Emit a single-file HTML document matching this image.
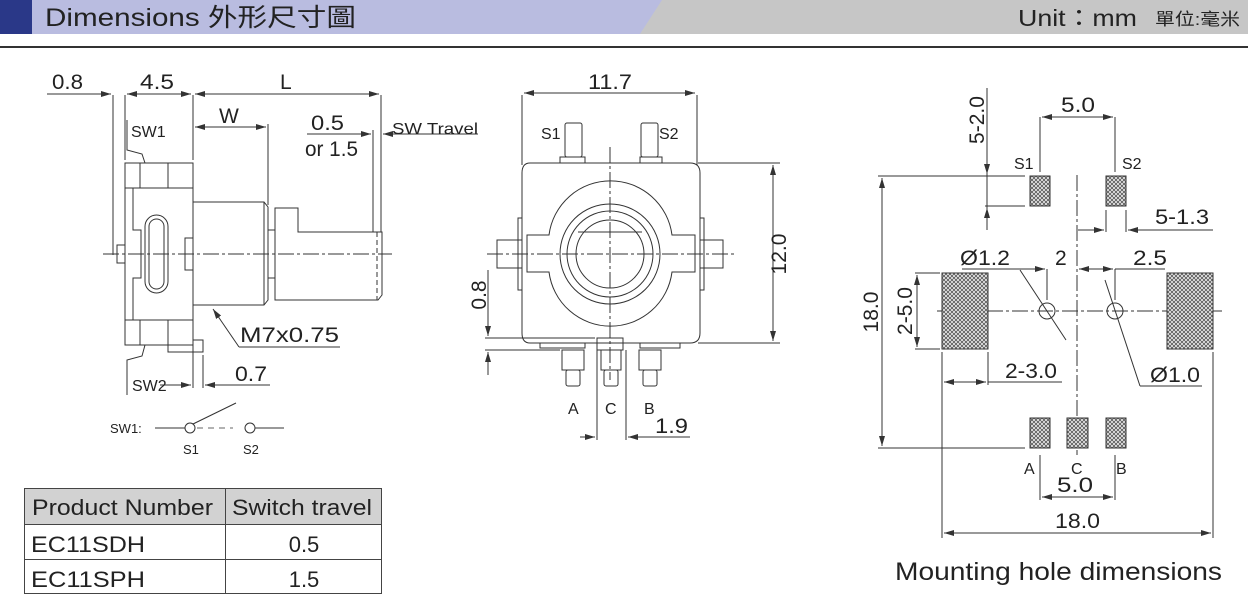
<!DOCTYPE html>
<html><head><meta charset="utf-8"><style>
html,body{margin:0;padding:0;background:#fff;width:1248px;height:610px;overflow:hidden}
svg{display:block}
text{font-family:"Liberation Sans","Noto Sans CJK TC",sans-serif;fill:#222}
</style></head><body>
<svg width="1248" height="610" viewBox="0 0 1248 610" xmlns="http://www.w3.org/2000/svg">
<defs>
<pattern id="hx" width="4" height="4" patternUnits="userSpaceOnUse">
<rect width="4" height="4" fill="#eee"/>
<path d="M0 0L4 4M4 0L0 4" stroke="#555" stroke-width="0.8"/>
</pattern>
<marker id="a" viewBox="0 0 10 6" refX="10" refY="3" markerWidth="10" markerHeight="6" orient="auto-start-reverse" markerUnits="userSpaceOnUse"><path d="M0 0L10 3L0 6z" fill="#333"/></marker>
</defs>
<!-- header -->
<rect x="0" y="0" width="1248" height="34" fill="#c6c6c6"/>
<polygon points="32,0 662,0 640,34 32,34" fill="#b9bce0"/>
<rect x="0" y="0" width="32" height="34" fill="#2a3888"/>
<text x="45" y="26" font-size="25" textLength="311" lengthAdjust="spacingAndGlyphs">Dimensions  外形尺寸圖</text>
<text x="1018" y="26" font-size="23" textLength="119" lengthAdjust="spacingAndGlyphs">Unit：mm</text>
<text x="1155" y="25" font-size="17" textLength="85" lengthAdjust="spacingAndGlyphs">單位:毫米</text>
<rect x="0" y="46" width="1248" height="2" fill="#333"/>

<g stroke="#333" stroke-width="1" fill="none">
<!-- LEFT VIEW -->
<line x1="113" y1="95" x2="113" y2="255"/>
<line x1="125" y1="95" x2="125" y2="160"/>
<line x1="193" y1="95" x2="193" y2="160"/>
<line x1="381" y1="95" x2="381" y2="232"/>
<line x1="373" y1="130" x2="373" y2="232"/>
<line x1="268" y1="124" x2="268" y2="205"/>
<line x1="47" y1="94" x2="111" y2="94" marker-end="url(#a)"/>
<line x1="127" y1="94" x2="191" y2="94" marker-start="url(#a)" marker-end="url(#a)"/>
<line x1="195" y1="94" x2="379" y2="94" marker-start="url(#a)" marker-end="url(#a)"/>
<line x1="195" y1="127" x2="266" y2="127" marker-start="url(#a)" marker-end="url(#a)"/>
<line x1="307" y1="134" x2="371" y2="134" marker-end="url(#a)"/>
<line x1="478" y1="134" x2="383" y2="134" marker-end="url(#a)"/>
<path d="M127 120V150L142 154L145 163"/>
<path d="M127 395V360L142 356L145 345"/>
<rect x="125" y="163" width="68" height="182"/>
<line x1="125" y1="188" x2="193" y2="188"/><line x1="125" y1="320" x2="193" y2="320"/>
<line x1="140" y1="163" x2="140" y2="188"/><line x1="168" y1="163" x2="168" y2="188"/>
<line x1="140" y1="320" x2="140" y2="345"/><line x1="168" y1="320" x2="168" y2="345"/>
<path d="M133 188V230H141V278H133V320"/>
<rect x="145" y="215" width="23" height="78" rx="11.5"/>
<rect x="149" y="219" width="15" height="70" rx="7.5"/>
<rect x="185" y="238" width="8" height="32"/>
<rect x="117" y="245" width="8" height="18"/>
<path d="M168 345V352H203V340H193"/>
<path d="M193 202H264L268 207V300L264 305H193"/>
<line x1="264" y1="202" x2="264" y2="305"/>
<rect x="268" y="230" width="7" height="48"/>
<path d="M275 300V208H298V232H382V295L378 300Z"/>
<line x1="377" y1="232" x2="377" y2="300" stroke-dasharray="5,3"/>
<line x1="103" y1="254" x2="392" y2="254" stroke-dasharray="16,3,3,3"/>
<line x1="193" y1="345" x2="193" y2="388"/><line x1="203" y1="355" x2="203" y2="388"/>
<line x1="160" y1="385" x2="191" y2="385" marker-end="url(#a)"/>
<line x1="270" y1="385" x2="205" y2="385" marker-end="url(#a)"/>
<path d="M239 347L213 309" marker-end="url(#a)"/><line x1="239" y1="347" x2="340" y2="347"/>
<line x1="155" y1="428" x2="185" y2="428"/><circle cx="190" cy="428" r="5"/>
<line x1="193" y1="424" x2="236" y2="403"/>
<line x1="197" y1="428" x2="233" y2="428" stroke-dasharray="6,5" stroke="#666"/>
<circle cx="250" cy="428" r="5"/><line x1="255" y1="428" x2="284" y2="428"/>

<!-- MIDDLE VIEW -->
<line x1="522" y1="95" x2="522" y2="165"/><line x1="697" y1="95" x2="697" y2="165"/>
<line x1="524" y1="93" x2="695" y2="93" marker-start="url(#a)" marker-end="url(#a)"/>
<line x1="698" y1="163" x2="780" y2="163"/><line x1="698" y1="343" x2="780" y2="343"/>
<line x1="773" y1="165" x2="773" y2="341" marker-start="url(#a)" marker-end="url(#a)"/>
<path d="M530 163H690Q700 163 700 173V333Q700 343 690 343H530Q522 343 522 333V173Q522 163 530 163Z"/>
<path d="M560 163V157H585V163M640 163V157H662V163"/>
<rect x="565" y="123" width="17" height="34" rx="2"/><rect x="641" y="123" width="17" height="34" rx="2"/>
<path d="M527 235H549A62 62 0 0 1 672 235H695V272H672A62 62 0 0 1 549 272H527Z"/>
<circle cx="610" cy="254" r="50"/><circle cx="610" cy="254" r="43"/><circle cx="610" cy="254" r="34"/>
<line x1="578" y1="232" x2="642" y2="232"/>
<rect x="497" y="240" width="25" height="28"/><rect x="700" y="240" width="23" height="28"/>
<rect x="518" y="218" width="4" height="72"/><rect x="700" y="218" width="4" height="72"/>
<line x1="610" y1="147" x2="610" y2="380" stroke-dasharray="16,3,3,3"/>
<line x1="487" y1="254" x2="735" y2="254" stroke-dasharray="16,3,3,3"/>
<path d="M540 343V348H585V343M640 343V348H680V343"/>
<rect x="597" y="338" width="26" height="12"/>
<rect x="562" y="350" width="22" height="20"/><rect x="566" y="370" width="14" height="16" rx="2"/>
<rect x="601" y="350" width="20" height="20"/><rect x="604" y="370" width="14" height="16" rx="2"/>
<rect x="639" y="350" width="22" height="20"/><rect x="643" y="370" width="14" height="16" rx="2"/>
<line x1="597" y1="350" x2="597" y2="440"/><line x1="626" y1="350" x2="626" y2="440"/>
<line x1="580" y1="437" x2="595" y2="437" marker-end="url(#a)"/>
<line x1="690" y1="437" x2="628" y2="437" marker-end="url(#a)"/>
<line x1="485" y1="338" x2="595" y2="338"/><line x1="485" y1="350" x2="560" y2="350"/>
<line x1="488" y1="270" x2="488" y2="336" marker-end="url(#a)"/>
<line x1="488" y1="375" x2="488" y2="352" marker-end="url(#a)"/>

<!-- RIGHT VIEW -->
<line x1="1077" y1="175" x2="1077" y2="455" stroke-dasharray="16,3,3,3"/>
<line x1="937" y1="311" x2="1222" y2="311" stroke-dasharray="16,3,3,3"/>
<line x1="987" y1="88" x2="987" y2="230"/>
<line x1="985" y1="206" x2="1025" y2="206"/>
<line x1="987" y1="150" x2="987" y2="174" marker-end="url(#a)"/>
<line x1="987" y1="230" x2="987" y2="208" marker-end="url(#a)"/>
<line x1="1040" y1="117" x2="1040" y2="172"/><line x1="1115" y1="117" x2="1115" y2="172"/>
<line x1="1042" y1="117" x2="1113" y2="117" marker-start="url(#a)" marker-end="url(#a)"/>
<line x1="878" y1="176" x2="1025" y2="176"/><line x1="878" y1="448" x2="1025" y2="448"/>
<line x1="882" y1="178" x2="882" y2="446" marker-start="url(#a)" marker-end="url(#a)"/>
<line x1="1106" y1="210" x2="1106" y2="232"/><line x1="1126" y1="210" x2="1126" y2="232"/>
<line x1="1078" y1="230" x2="1104" y2="230" marker-end="url(#a)"/>
<line x1="1213" y1="230" x2="1128" y2="230" marker-end="url(#a)"/>
<line x1="962" y1="269" x2="1045" y2="269" marker-end="url(#a)"/>
<line x1="1047" y1="269" x2="1047" y2="300"/><line x1="1115" y1="269" x2="1115" y2="300"/>
<line x1="1079" y1="269" x2="1113" y2="269" marker-start="url(#a)" marker-end="url(#a)"/>
<line x1="1115" y1="269" x2="1165" y2="269"/>
<line x1="915" y1="273" x2="940" y2="273"/><line x1="915" y1="349" x2="940" y2="349"/>
<line x1="917" y1="275" x2="917" y2="347" marker-start="url(#a)" marker-end="url(#a)"/>
<line x1="942" y1="352" x2="942" y2="538"/><line x1="988" y1="352" x2="988" y2="385"/>
<line x1="1213" y1="352" x2="1213" y2="538"/>
<line x1="944" y1="382" x2="986" y2="382" marker-start="url(#a)" marker-end="url(#a)"/>
<line x1="988" y1="382" x2="1062" y2="382"/>
<circle cx="1047" cy="311" r="8"/><circle cx="1115" cy="311" r="8"/>
<line x1="1020" y1="270" x2="1066" y2="340"/>
<line x1="1105" y1="280" x2="1140" y2="386"/><line x1="1140" y1="386" x2="1202" y2="386"/>
<line x1="1040" y1="455" x2="1040" y2="500"/><line x1="1115" y1="455" x2="1115" y2="500"/>
<line x1="1042" y1="497" x2="1113" y2="497" marker-start="url(#a)" marker-end="url(#a)"/>
<line x1="944" y1="533" x2="1211" y2="533" marker-start="url(#a)" marker-end="url(#a)"/>
</g>
<g fill="url(#hx)" stroke="#333">
<rect x="1030" y="176" width="20" height="30"/><rect x="1106" y="176" width="20" height="30"/>
<rect x="1030" y="418" width="20" height="30"/><rect x="1067" y="418" width="21" height="30"/><rect x="1106" y="418" width="20" height="30"/>
<rect x="942" y="273" width="46" height="76"/><rect x="1167" y="273" width="46" height="76"/>
</g>

<g font-size="21">
<text x="52" y="89" textLength="31" lengthAdjust="spacingAndGlyphs">0.8</text>
<text x="140" y="89" textLength="34" lengthAdjust="spacingAndGlyphs">4.5</text>
<text x="280" y="89">L</text>
<text x="219" y="123">W</text>
<text x="311" y="130" textLength="33" lengthAdjust="spacingAndGlyphs">0.5</text>
<text x="305" y="156" textLength="53" lengthAdjust="spacingAndGlyphs">or 1.5</text>
<text x="240" y="342" textLength="99" lengthAdjust="spacingAndGlyphs">M7x0.75</text>
<text x="235" y="381" textLength="32" lengthAdjust="spacingAndGlyphs">0.7</text>
<text x="588" y="89" textLength="44" lengthAdjust="spacingAndGlyphs">11.7</text>
<text x="655" y="433" textLength="33" lengthAdjust="spacingAndGlyphs">1.9</text>
<text x="1061" y="112" textLength="34" lengthAdjust="spacingAndGlyphs">5.0</text>
<text x="1155" y="224" textLength="54" lengthAdjust="spacingAndGlyphs">5-1.3</text>
<text x="960" y="265" textLength="50" lengthAdjust="spacingAndGlyphs">Ø1.2</text>
<text x="1055" y="265">2</text>
<text x="1133" y="265" textLength="34" lengthAdjust="spacingAndGlyphs">2.5</text>
<text x="1005" y="378" textLength="52" lengthAdjust="spacingAndGlyphs">2-3.0</text>
<text x="1150" y="382" textLength="50" lengthAdjust="spacingAndGlyphs">Ø1.0</text>
<text x="1057" y="492" textLength="36" lengthAdjust="spacingAndGlyphs">5.0</text>
<text x="1055" y="528" textLength="45" lengthAdjust="spacingAndGlyphs">18.0</text>
<text transform="translate(786,254) rotate(-90)" text-anchor="middle">12.0</text>
<text transform="translate(486,295) rotate(-90)" text-anchor="middle">0.8</text>
<text transform="translate(984,120) rotate(-90)" text-anchor="middle">5-2.0</text>
<text transform="translate(878,312) rotate(-90)" text-anchor="middle">18.0</text>
<text transform="translate(912,311) rotate(-90)" text-anchor="middle">2-5.0</text>
</g>
<g font-size="16">
<text x="131" y="137">SW1</text><text x="132" y="391">SW2</text>
<text x="392" y="134" textLength="86" lengthAdjust="spacingAndGlyphs">SW Travel</text>
<text x="541" y="139">S1</text><text x="659" y="139">S2</text>
<text x="568" y="414">A</text><text x="605" y="414">C</text><text x="644" y="414">B</text>
<text x="1014" y="169">S1</text><text x="1122" y="169">S2</text>
<text x="1024" y="474">A</text><text x="1071" y="474">C</text><text x="1116" y="474">B</text>
</g>
<g font-size="13"><text x="110" y="433">SW1:</text><text x="183" y="454">S1</text><text x="243" y="454">S2</text></g>
<rect x="24" y="488" width="358" height="36" fill="#d2d2d2"/>
<g stroke="#444" stroke-width="1" fill="none">
<rect x="24.5" y="488.5" width="357" height="105"/>
<line x1="24" y1="524.5" x2="382" y2="524.5"/><line x1="24" y1="559.5" x2="382" y2="559.5"/>
<line x1="225.5" y1="488" x2="225.5" y2="594"/>
</g>
<g font-size="22">
<text x="32" y="515" textLength="181" lengthAdjust="spacingAndGlyphs">Product Number</text>
<text x="232" y="515" textLength="140" lengthAdjust="spacingAndGlyphs">Switch travel</text>
<text x="31" y="552" textLength="114" lengthAdjust="spacingAndGlyphs">EC11SDH</text>
<text x="304" y="552" text-anchor="middle">0.5</text>
<text x="31" y="587" textLength="114" lengthAdjust="spacingAndGlyphs">EC11SPH</text>
<text x="304" y="587" text-anchor="middle">1.5</text>
</g>
<text x="895" y="580" font-size="25" textLength="327" lengthAdjust="spacingAndGlyphs">Mounting hole dimensions</text>
</svg>
</body></html>
